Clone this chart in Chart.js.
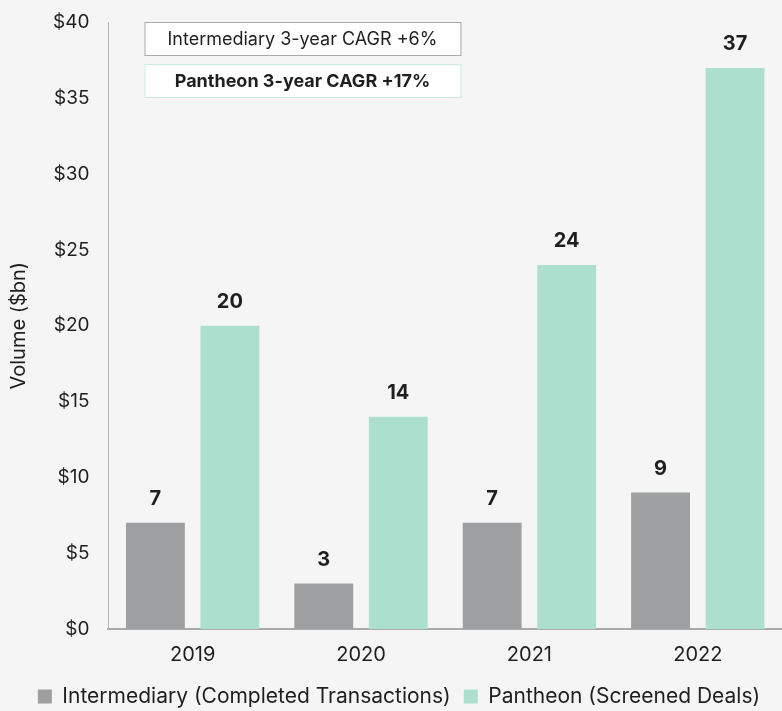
<!DOCTYPE html>
<html>
<head>
<meta charset="utf-8">
<script src="https://cdn.jsdelivr.net/npm/chart.js@4.4.1/dist/chart.umd.min.js"></script>
<style>
  html, body { margin: 0; padding: 0; background: #f5f5f5; }
  #wrap { width: 782px; height: 711px; position: relative; }
</style>
</head>
<body>
<div id="wrap"><canvas id="chart"></canvas></div>
<script>
const years = ['2019', '2020', '2021', '2022'];
const intermediary = [7, 3, 7, 9];
const pantheon = [20, 14, 24, 37];
const seriesNames = ['Intermediary (Completed Transactions)', 'Pantheon (Screened Deals)'];
const cagrNotes = ['Intermediary 3-year CAGR +6%', 'Pantheon 3-year CAGR +17%'];

const FONT = 'Inter, "Noto Sans", sans-serif';

// value labels above every bar
const barLabels = {
  id: 'barLabels',
  afterDatasetsDraw(chart) {
    const ctx = chart.ctx;
    ctx.save();
    ctx.font = 'bold 20px ' + FONT;
    ctx.fillStyle = '#1f1f1f';
    ctx.textAlign = 'center';
    ctx.textBaseline = 'middle';
    chart.data.datasets.forEach((ds, i) => {
      chart.getDatasetMeta(i).data.forEach((bar, j) => {
        ctx.fillText(ds.data[j], bar.x, bar.y - 24);
      });
    });
    ctx.restore();
  }
};

// the two CAGR boxes in the top left of the plot
const cagrBoxes = {
  id: 'cagrBoxes',
  afterDraw(chart) {
    const ctx = chart.ctx;
    const area = chart.chartArea;
    const left = area.left + 36;
    const w = 316;
    const h = 33;
    const styles = [
      { top: 22, border: '#a9a9a9', font: '18px ' + FONT },
      { top: 64, border: '#c9ebe0', font: 'bold 18px ' + FONT }
    ];
    ctx.save();
    styles.forEach((s, i) => {
      ctx.fillStyle = '#ffffff';
      ctx.fillRect(left, s.top, w, h);
      ctx.strokeStyle = s.border;
      ctx.lineWidth = 1;
      ctx.strokeRect(left + 0.5, s.top + 0.5, w, h);
      ctx.fillStyle = '#1f1f1f';
      ctx.font = s.font;
      ctx.textAlign = 'center';
      ctx.textBaseline = 'middle';
      ctx.fillText(cagrNotes[i], left + w / 2, s.top + h / 2 + 1);
    });
    ctx.restore();
  }
};

const ctx = document.getElementById('chart').getContext('2d');
new Chart(ctx, {
  type: 'bar',
  data: {
    labels: years,
    datasets: [
      {
        label: seriesNames[0],
        data: intermediary,
        backgroundColor: '#9d9fa0',
        categoryPercentage: 0.885,
        barPercentage: 0.79
      },
      {
        label: seriesNames[1],
        data: pantheon,
        backgroundColor: '#addfcf',
        categoryPercentage: 0.885,
        barPercentage: 0.79
      }
    ]
  },
  options: {
    responsive: true,
    maintainAspectRatio: false,
    animation: false,
    layout: { padding: { top: 4, right: -9, left: 7, bottom: -6 } },
    plugins: {
      legend: {
        position: 'bottom',
        labels: {
          font: { family: FONT, size: 21 },
          color: '#1f1f1f',
          boxWidth: 14,
          boxHeight: 14,
          padding: 13
        }
      },
      tooltip: { enabled: false }
    },
    scales: {
      x: {
        grid: { display: false },
        border: { color: '#aaaaaa', width: 2 },
        ticks: { font: { family: FONT, size: 20 }, color: '#1f1f1f', padding: 6 }
      },
      y: {
        min: 0,
        max: 40,
        grid: { display: false },
        border: { color: '#b5b5b5' },
        ticks: {
          stepSize: 5,
          font: { family: FONT, size: 19 },
          color: '#1f1f1f',
          padding: 11,
          callback: v => '$' + v
        },
        title: {
          display: true,
          text: 'Volume ($bn)',
          font: { family: FONT, size: 20 },
          color: '#1f1f1f',
          padding: { top: 0, bottom: 11 }
        }
      }
    }
  },
  plugins: [barLabels, cagrBoxes]
});
</script>
</body>
</html>
